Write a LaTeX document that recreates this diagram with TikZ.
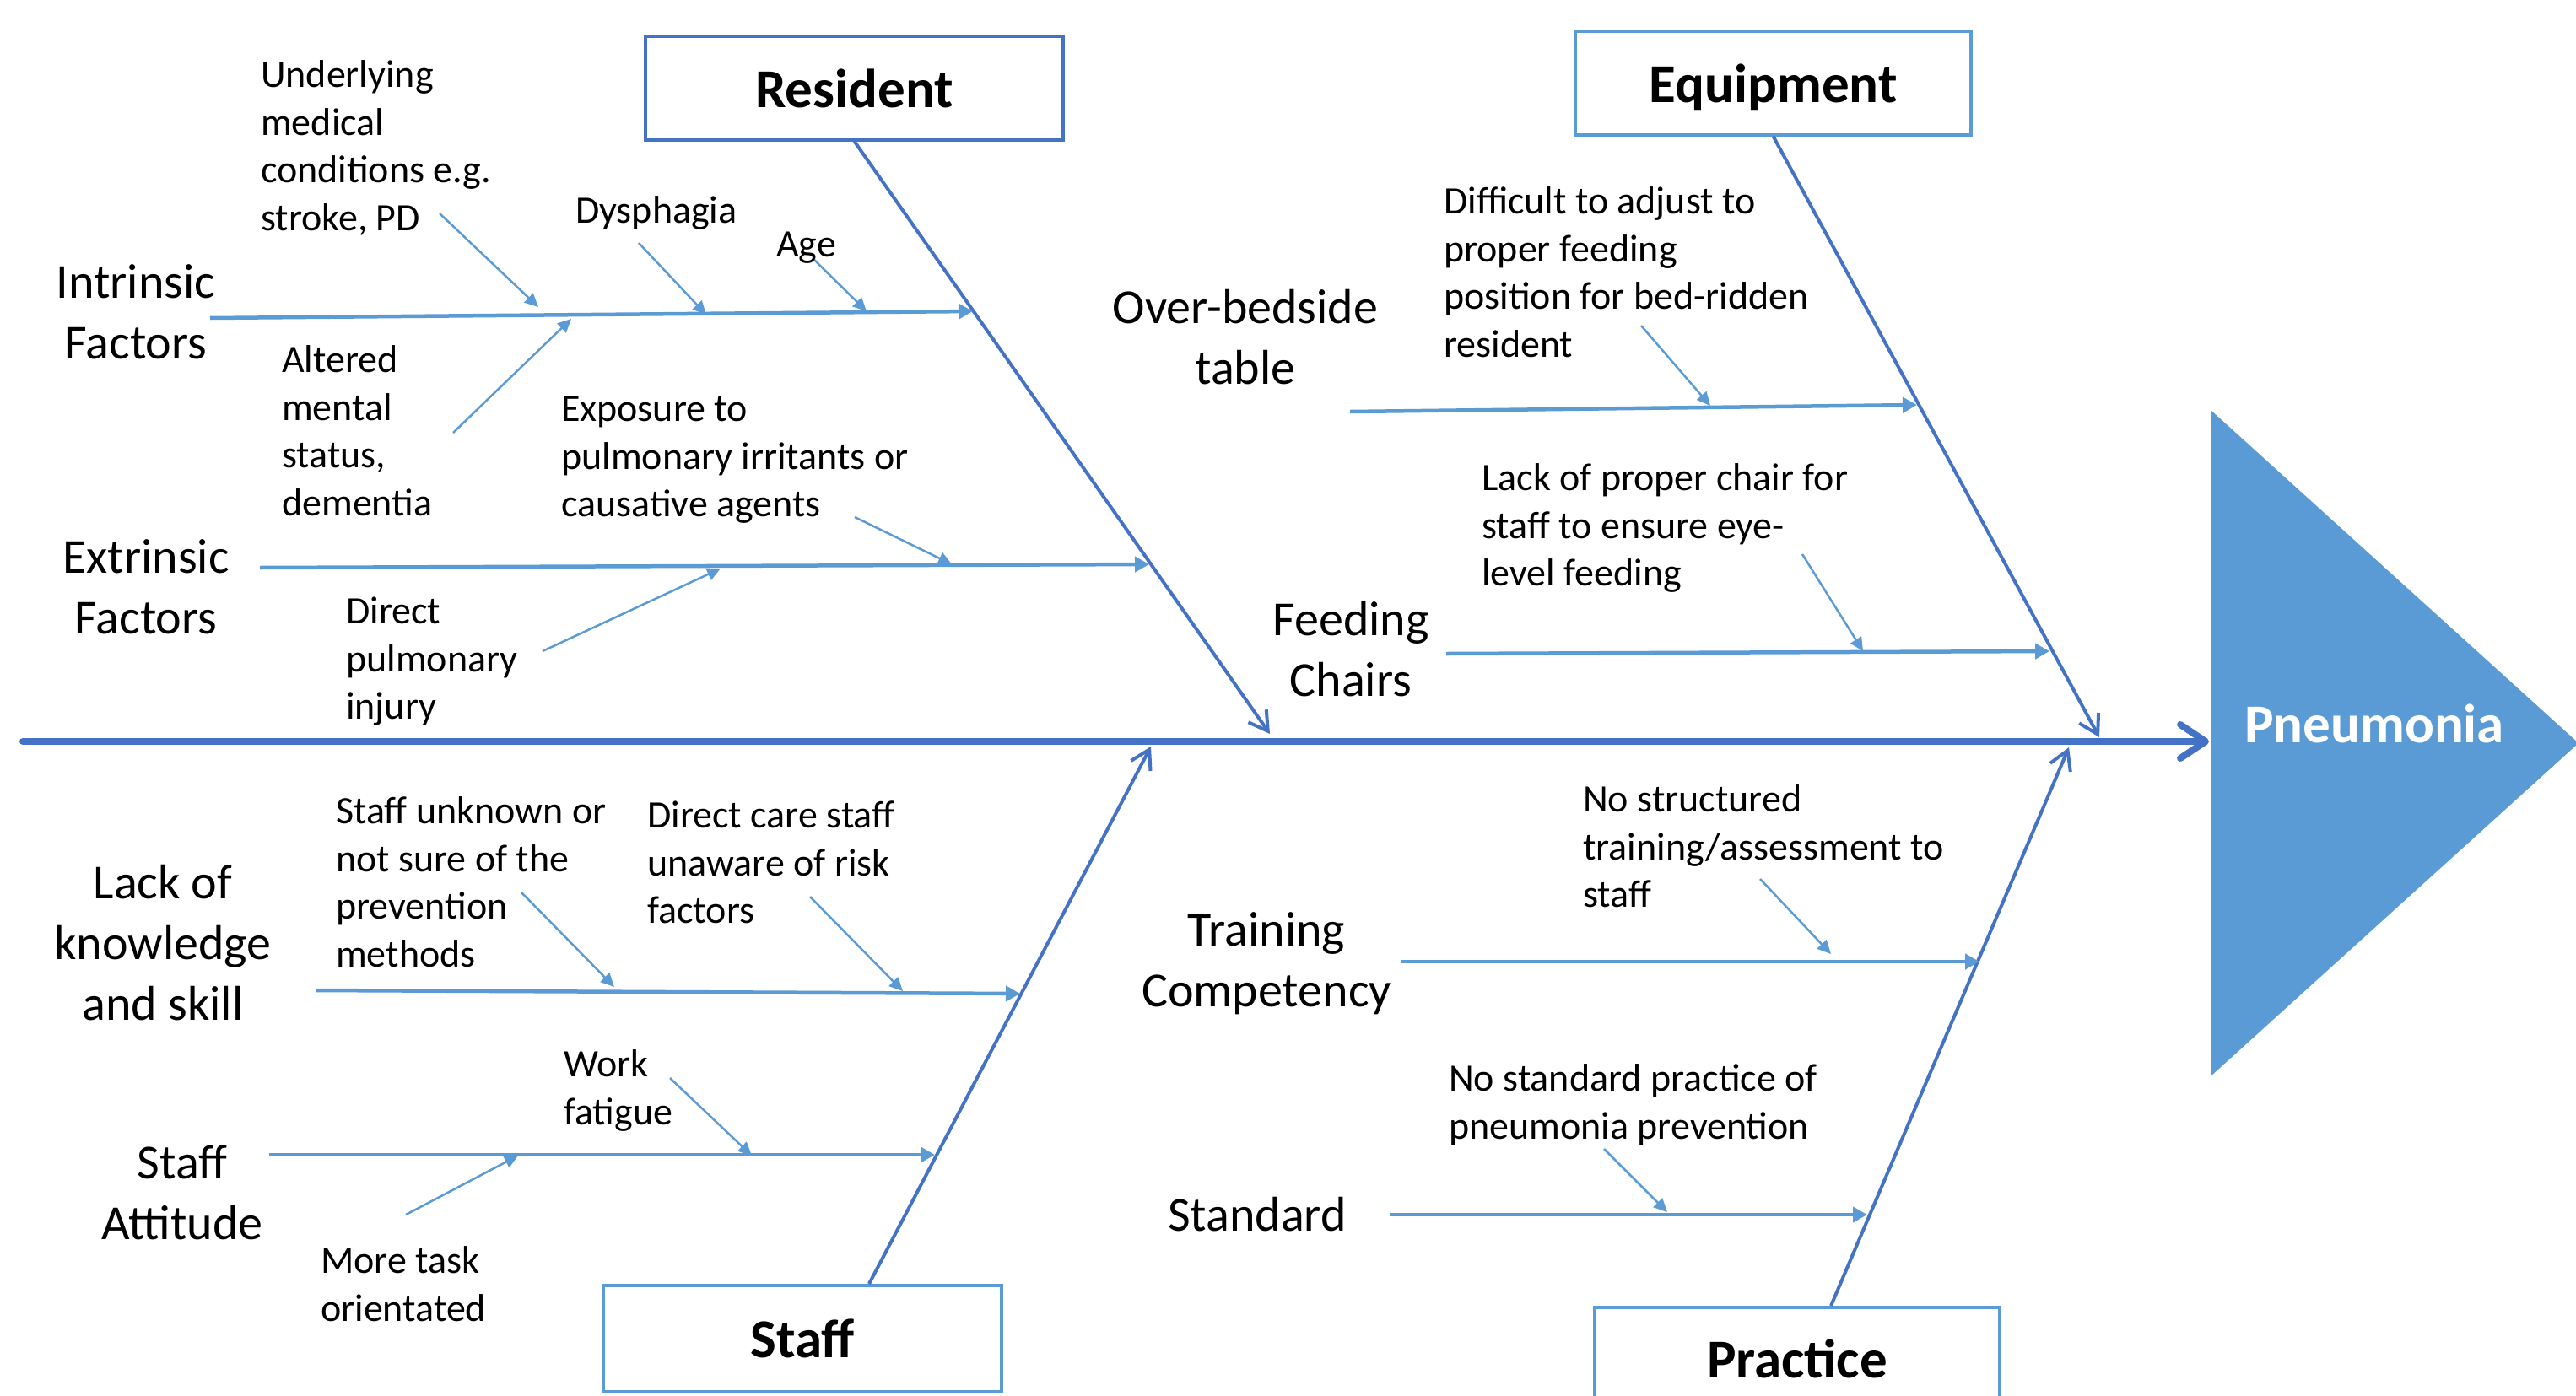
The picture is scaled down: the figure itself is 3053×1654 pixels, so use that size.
\documentclass[tikz,border=0pt]{standalone}
\usepackage{fontspec}
\setmainfont{Carlito}
\usetikzlibrary{arrows.meta}
\definecolor{dblue}{HTML}{4472C4}
\definecolor{lblue}{HTML}{5B9BD5}
\tikzset{
  spinearrow/.style={draw=dblue, line width=8pt, line cap=round, -{Straight Barb[length=30pt,width=40pt,line cap=round,line join=round]}},
  bonearrow/.style={draw=dblue, line width=4pt, -{Straight Barb[length=22pt,width=26pt]}},
  brancharrow/.style={draw=lblue, line width=4.5pt, -{Triangle[length=17pt,width=18pt]}},
  causearrow/.style={draw=lblue, line width=2.5pt, -{Triangle[length=16pt,width=15pt]}},
  catbox/.style={line width=4pt, fill=white, inner sep=0pt, minimum height=122pt,
    font=\fontsize{65}{78}\selectfont\bfseries, text height=58pt, text depth=13pt},
  subtext/.style={font=\fontsize{46}{56.5}\selectfont, align=left, anchor=north west, inner sep=0pt, yshift=-1.5pt},
  labtext/.style={font=\fontsize{58}{72}\selectfont, align=center, anchor=north, inner sep=0pt, yshift=-2pt},
}
\begin{document}
\begin{tikzpicture}[x=1pt,y=-1pt]
\useasboundingbox (0,0) rectangle (3053,1654);
\fill[white] (0,0) rectangle (3053,1654);

% head
\fill[lblue] (2621,487) -- (3056,881) -- (2621,1275) -- cycle;
\node[font=\fontsize{65}{78}\selectfont\bfseries, text=white, anchor=base, inner sep=0pt] (pneu) at (2814,880) {Pneumonia};

% spine
\coordinate (sp0) at (27,879);
\coordinate (headL) at (2621,879);
\draw[spinearrow] (sp0) -- ([xshift=-3pt]headL);

% category boxes
\node[catbox, draw=dblue, minimum width=495pt] (res) at (1012.5,104.5) {Resident};
\node[catbox, draw=lblue, minimum width=469pt] (equ) at (2101.5,98.5) {Equipment};
\node[catbox, draw=lblue, minimum width=472pt, minimum height=126pt] (stf) at (951,1587) {Staff};
\node[catbox, draw=lblue, minimum width=480pt] (pra) at (2130,1611) {Practice};

% bones
\coordinate (resT) at (1505,870);
\coordinate (equT) at (2488,874);
\coordinate (stfT) at (1364,885);
\coordinate (praT) at (2452,886);
\draw[bonearrow] (res.south) -- (resT);
\draw[bonearrow] (equ.south) -- (equT);
\draw[bonearrow] ([xshift=79pt]stf.north) -- (stfT);
\draw[bonearrow] ([xshift=40pt]pra.north) -- (praT);

% branches
\coordinate (intA) at (249,377);  \coordinate (intB) at (1153,369);
\coordinate (extA) at (308,673);  \coordinate (extB) at (1362,669);
\coordinate (ovbA) at (1600,488); \coordinate (ovbB) at (2272,480);
\coordinate (fchA) at (1714,775); \coordinate (fchB) at (2429,772);
\coordinate (lokA) at (375,1174); \coordinate (lokB) at (1209,1178);
\coordinate (satA) at (319,1369); \coordinate (satB) at (1108,1369);
\coordinate (trcA) at (1661,1140); \coordinate (trcB) at (2346,1140);
\coordinate (stdA) at (1647,1440); \coordinate (stdB) at (2213,1440);
\draw[brancharrow] (intA) -- (intB);
\draw[brancharrow] (extA) -- (extB);
\draw[brancharrow] (ovbA) -- (ovbB);
\draw[brancharrow] (fchA) -- (fchB);
\draw[brancharrow] (lokA) -- (lokB);
\draw[brancharrow] (satA) -- (satB);
\draw[brancharrow] (trcA) -- (trcB);
\draw[brancharrow] (stdA) -- (stdB);

% cause arrows
\coordinate (c1a) at (521,253);   \coordinate (c1b) at (638,364);
\coordinate (c2a) at (757,288);   \coordinate (c2b) at (837,373);
\coordinate (c3a) at (965,308);   \coordinate (c3b) at (1027,369);
\coordinate (c4a) at (537,513);   \coordinate (c4b) at (677,378);
\coordinate (c5a) at (1013,613);  \coordinate (c5b) at (1128,669);
\coordinate (c6a) at (643,772);   \coordinate (c6b) at (854,674);
\coordinate (c7a) at (1945,386);  \coordinate (c7b) at (2027,481);
\coordinate (c8a) at (2136,657);  \coordinate (c8b) at (2208,772);
\coordinate (c9a) at (618,1058);  \coordinate (c9b) at (728,1170);
\coordinate (c10a) at (960,1063); \coordinate (c10b) at (1070,1175);
\coordinate (c11a) at (794,1278); \coordinate (c11b) at (891,1370);
\coordinate (c12a) at (481,1440); \coordinate (c12b) at (614,1370);
\coordinate (c13a) at (2086,1042); \coordinate (c13b) at (2170,1131);
\coordinate (c14a) at (1901,1362); \coordinate (c14b) at (1976,1437);
\foreach \i in {1,...,14} {\draw[causearrow] (c\i a) -- (c\i b);}

% main cause labels
\node[labtext] (lint) at (161,300.6) {\strut Intrinsic\\Factors};
\node[labtext] (lext) at (173,626.6) {\strut Extrinsic\\Factors};
\node[labtext] (lovb) at (1476,330.6) {\strut Over-bedside\\table};
\node[labtext] (lfch) at (1601,700.6) {\strut Feeding\\Chairs};
\node[labtext] (llok) at (193,1012.6) {\strut Lack of\\knowledge\\and skill};
\node[labtext] (lsat) at (216,1344.6) {\strut Staff\\Attitude};
\node[labtext] (ltrc) at (1501,1068.6) {\strut Training\\Competency};
\node[labtext] (lstd) at (1490,1406.6) {\strut Standard};

% sub-cause texts
\node[subtext] (t1) at (309,62.5) {\strut Underlying\\medical\\conditions e.g.\\stroke, PD};
\node[subtext] (t2) at (682,223.5) {\strut Dysphagia};
\node[subtext] (t3) at (920,263.5) {\strut Age};
\node[subtext] (t4) at (334,400.5) {\strut Altered\\mental\\status,\\dementia};
\node[subtext] (t5) at (665,458.5) {\strut Exposure to\\pulmonary irritants or\\causative agents};
\node[subtext] (t6) at (410,698.5) {\strut Direct\\pulmonary\\injury};
\node[subtext] (t7) at (1711,212.5) {\strut Difficult to adjust to\\proper feeding\\position for bed-ridden\\resident};
\node[subtext] (t8) at (1756,540.5) {\strut Lack of proper chair for\\staff to ensure eye-\\level feeding};
\node[subtext] (t9) at (398,935.5) {\strut Staff unknown or\\not sure of the\\prevention\\methods};
\node[subtext] (t10) at (767,940.5) {\strut Direct care staff\\unaware of risk\\factors};
\node[subtext] (t11) at (668,1235.5) {\strut Work\\fatigue};
\node[subtext] (t12) at (380,1468.5) {\strut More task\\orientated};
\node[subtext] (t13) at (1876,921.5) {\strut No structured\\training/assessment to\\staff};
\node[subtext] (t14) at (1717,1252.5) {\strut No standard practice of\\pneumonia prevention};
\end{tikzpicture}
\end{document}
